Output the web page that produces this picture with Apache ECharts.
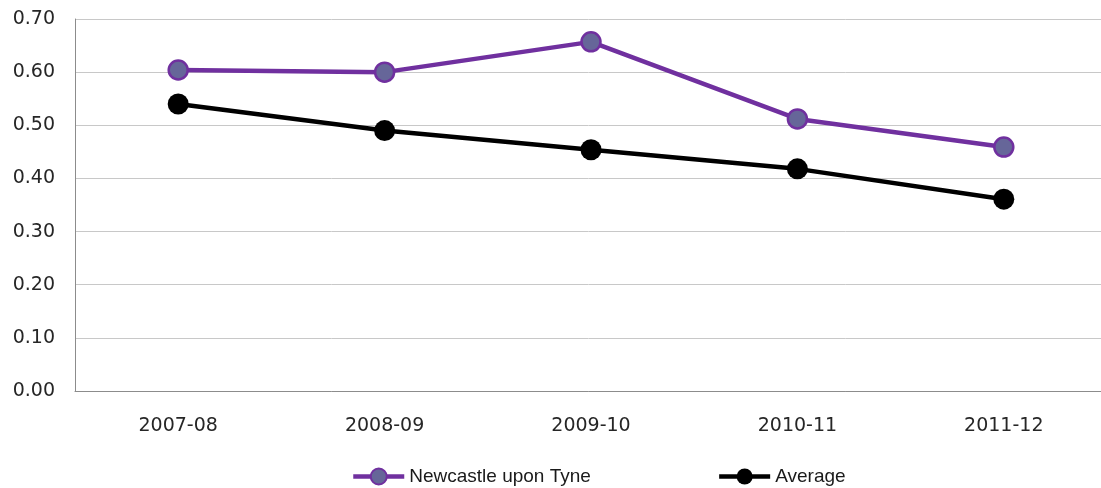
<!DOCTYPE html>
<html>
<head>
<meta charset="utf-8">
<script src="https://cdn.jsdelivr.net/npm/echarts@6/dist/echarts.min.js"></script>
<style>
  html, body { margin: 0; padding: 0; background: #fff; }
  #chart { width: 1101px; height: 488px; }
</style>
</head>
<body>
<div id="chart"></div>
<script>
const years = ['2007-08', '2008-09', '2009-10', '2010-11', '2011-12']
const newcastle = [0.604, 0.600, 0.657, 0.512, 0.459]
const average = [0.540, 0.490, 0.454, 0.418, 0.361]

const myChart = echarts.init(document.getElementById('chart'))
const axisText = { color: '#262626', fontFamily: 'DejaVu Sans', fontSize: 19 }

const option = {
  animation: false,
  grid: { left: 75, top: 19, width: 1032, height: 372, outerBoundsMode: 'none', containLabel: false },
  legend: {
    bottom: 2,
    left: 351,
    padding: 0,
    itemWidth: 51,
    itemHeight: 20,
    itemGap: 126,
    lineStyle: { width: 4.5 },
    textStyle: { color: '#1a1a1a', fontFamily: 'Liberation Sans', fontSize: 19 },
    data: ['Newcastle upon Tyne', 'Average']
  },
  xAxis: {
    type: 'category',
    data: years,
    boundaryGap: true,
    axisLine: { lineStyle: { color: '#8c8c8c', width: 1 } },
    axisTick: { show: false },
    axisLabel: { ...axisText, margin: 26 }
  },
  yAxis: {
    type: 'value',
    min: 0,
    max: 0.7,
    interval: 0.1,
    axisLine: { show: true, lineStyle: { color: '#8c8c8c', width: 1 } },
    axisLabel: { ...axisText, margin: 20, formatter: v => v.toFixed(2) },
    splitLine: { lineStyle: { color: '#c8c8c8', width: 1 } }
  },
  series: [
    {
      name: 'Newcastle upon Tyne',
      type: 'line',
      data: newcastle,
      symbol: 'circle',
      symbolSize: 19,
      lineStyle: { color: '#70309f', width: 4.5 },
      itemStyle: { color: '#666699', borderColor: '#70309f', borderWidth: 2.5 }
    },
    {
      name: 'Average',
      type: 'line',
      data: average,
      symbol: 'circle',
      symbolSize: 21,
      lineStyle: { color: '#000', width: 4.5 },
      itemStyle: { color: '#000', borderColor: '#000', borderWidth: 0 }
    }
  ]
}
myChart.setOption(option)
</script>
</body>
</html>
